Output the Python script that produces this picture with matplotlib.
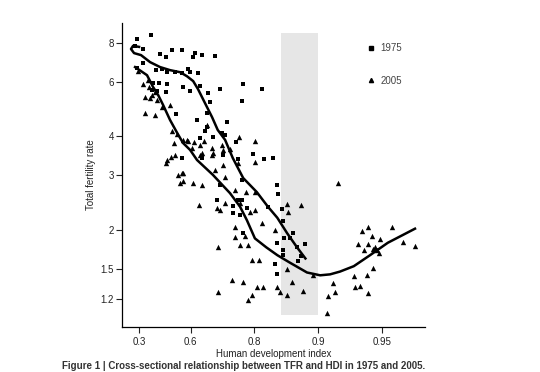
import numpy as np
import matplotlib
matplotlib.use("Agg")
import matplotlib.pyplot as plt
from matplotlib.ticker import NullLocator, FixedLocator, FixedFormatter
from matplotlib.lines import Line2D

plt.rcParams['font.family'] = ['Liberation Sans', 'DejaVu Sans']

# ---- data (HDI, total fertility rate) ----
hdi_1975 = [0.285, 0.386, 0.269, 0.330, 0.443, 0.478, 0.511, 0.561, 0.619, 0.647,
            0.693, 0.611, 0.330, 0.285, 0.418, 0.455, 0.483, 0.527, 0.561, 0.589,
            0.598, 0.631, 0.399, 0.437, 0.483, 0.392, 0.424, 0.478, 0.566, 0.598,
            0.639, 0.669, 0.676, 0.709, 0.774, 0.816, 0.771, 0.665, 0.532, 0.627,
            0.731, 0.665, 0.658, 0.715, 0.725, 0.686, 0.639, 0.756, 0.561, 0.647,
            0.719, 0.761, 0.797, 0.820, 0.836, 0.709, 0.771, 0.844, 0.845, 0.699,
            0.761, 0.771, 0.747, 0.783, 0.827, 0.747, 0.766, 0.851, 0.854, 0.774,
            0.868, 0.855, 0.864, 0.844, 0.885, 0.874, 0.854, 0.854, 0.879, 0.875,
            0.840, 0.844]
tfr_1975 = [8.24, 8.48, 7.83, 7.65, 7.37, 7.20, 7.59, 7.59, 7.42, 7.31,
            7.26, 7.20, 6.89, 6.64, 6.54, 6.59, 6.44, 6.44, 6.40, 6.59,
            6.44, 6.40, 5.95, 5.95, 5.90, 5.64, 5.60, 5.56, 5.77, 5.60,
            5.81, 5.52, 5.16, 5.68, 5.90, 5.68, 5.20, 4.76, 4.73, 4.52,
            4.46, 4.30, 4.17, 4.11, 4.05, 3.99, 3.96, 3.84, 3.41, 3.41,
            3.49, 3.39, 3.52, 3.39, 3.41, 2.79, 2.90, 2.79, 2.61, 2.50,
            2.50, 2.50, 2.39, 2.36, 2.38, 2.27, 2.23, 2.34, 2.14, 1.95,
            1.96, 1.89, 1.89, 1.82, 1.81, 1.76, 1.73, 1.66, 1.65, 1.59,
            1.55, 1.44]

hdi_2005 = [0.292, 0.330, 0.365, 0.372, 0.344, 0.392, 0.412, 0.379, 0.424, 0.344,
            0.412, 0.455, 0.500, 0.511, 0.537, 0.522, 0.566, 0.584, 0.606, 0.615,
            0.639, 0.647, 0.483, 0.505, 0.527, 0.552, 0.566, 0.589, 0.639, 0.683,
            0.683, 0.719, 0.739, 0.763, 0.801, 0.801, 0.761, 0.719, 0.665, 0.654,
            0.686, 0.693, 0.566, 0.611, 0.647, 0.725, 0.753, 0.781, 0.801, 0.635,
            0.699, 0.725, 0.709, 0.766, 0.790, 0.801, 0.860, 0.880, 0.861, 0.816,
            0.840, 0.753, 0.779, 0.753, 0.785, 0.702, 0.766, 0.794, 0.810, 0.745,
            0.774, 0.805, 0.818, 0.702, 0.794, 0.785, 0.844, 0.849, 0.860, 0.867,
            0.860, 0.882, 0.894, 0.915, 0.917, 0.910, 0.909, 0.919, 0.932, 0.933,
            0.9365, 0.941, 0.942, 0.945, 0.935, 0.939, 0.938, 0.942, 0.944, 0.942,
            0.946, 0.947, 0.948, 0.945, 0.949, 0.955, 0.960, 0.965, 0.478, 0.542,
            0.561, 0.715]
tfr_2005 = [6.49, 5.90, 6.08, 5.77, 5.36, 5.44, 5.56, 5.32, 5.24, 4.76,
            4.69, 4.98, 5.05, 4.17, 4.08, 3.81, 3.90, 3.90, 3.68, 3.84,
            3.76, 3.54, 3.36, 3.44, 3.49, 2.83, 2.88, 3.87, 3.49, 3.68,
            3.49, 3.62, 3.65, 3.99, 3.87, 3.31, 3.29, 3.24, 4.36, 3.87,
            3.54, 3.12, 3.05, 2.83, 2.79, 2.97, 2.69, 2.65, 2.65, 2.41,
            2.36, 2.45, 2.32, 2.45, 2.29, 2.32, 2.43, 2.41, 2.29, 2.10,
            2.00, 2.05, 1.92, 1.90, 1.79, 1.76, 1.79, 1.60, 1.60, 1.38,
            1.36, 1.31, 1.31, 1.26, 1.24, 1.19, 1.31, 1.26, 1.24, 1.36,
            1.50, 1.27, 1.43, 1.35, 1.26, 1.23, 1.08, 2.83, 1.42, 1.31,
            1.32, 1.43, 1.25, 1.51, 1.81, 1.72, 1.98, 2.04, 1.91, 1.81,
            1.76, 1.72, 1.69, 1.74, 1.87, 2.04, 1.83, 1.78, 3.29, 3.01,
            3.05, 3.76]

# smoothed fits
fit_hdi_1975 = [0.300, 0.253, 0.236, 0.261, 0.315, 0.379, 0.443, 0.500, 0.552, 0.584,
                0.611, 0.631, 0.658, 0.683, 0.702, 0.725, 0.747, 0.774, 0.805, 0.827,
                0.844, 0.860, 0.874, 0.885]
fit_tfr_1975 = [7.77, 7.83, 7.65, 7.42, 7.31, 6.94, 6.69, 6.54, 6.44, 6.25,
                6.03, 5.68, 5.12, 4.62, 4.20, 3.90, 3.41, 2.94, 2.65, 2.38,
                2.19, 1.95, 1.76, 1.62]
fit_hdi_2005 = [0.269, 0.358, 0.399, 0.431, 0.461, 0.500, 0.537, 0.566, 0.598, 0.627,
                0.686, 0.739, 0.766, 0.783, 0.801, 0.824, 0.844, 0.864, 0.887, 0.902,
                0.912, 0.921, 0.932, 0.943, 0.953, 0.959, 0.965]
fit_tfr_2005 = [6.69, 6.30, 5.77, 5.44, 5.05, 4.52, 4.11, 3.81, 3.62, 3.36,
                3.01, 2.63, 2.38, 2.15, 1.88, 1.76, 1.66, 1.57, 1.46, 1.43,
                1.44, 1.47, 1.53, 1.66, 1.82, 1.91, 2.02]

band = (0.85, 0.90)
x_ticks = [0.3, 0.6, 0.8, 0.9, 0.95]
x_tick_labels = ['0.3', '0.6', '0.8', '0.9', '0.95']
y_ticks = [1.2, 1.5, 2, 3, 4, 6, 8]
y_tick_labels = ['1.2', '1.5', '2', '3', '4', '6', '8']

# ---- figure ----
fig = plt.figure(figsize=(5.4, 3.72), dpi=100)
ax = fig.add_axes([0.226, 0.121, 0.561, 0.817])

def fwd(x):
    x = np.asarray(x, dtype=float)
    return -np.log(np.clip(1.0 - x, 1e-9, None))

def inv(u):
    return 1.0 - np.exp(-np.asarray(u, dtype=float))

ax.set_xscale('function', functions=(fwd, inv))
ax.set_yscale('log')
ax.set_xlim(0.158, 0.9686)
ax.set_ylim(0.975, 9.27)

ax.axvspan(band[0], band[1], ymin=0.039, ymax=0.967, color='#e6e6e6', lw=0, zorder=0)

ax.scatter(hdi_1975, tfr_1975, marker='s', s=12, color='black', lw=0, zorder=3)
ax.scatter(hdi_2005, tfr_2005, marker='^', s=15, color='black', lw=0, zorder=3)
ax.plot(fit_hdi_1975, fit_tfr_1975, color='black', lw=1.8, zorder=4)
ax.plot(fit_hdi_2005, fit_tfr_2005, color='black', lw=1.8, zorder=4)

ax.xaxis.set_major_locator(FixedLocator(x_ticks))
ax.xaxis.set_major_formatter(FixedFormatter(x_tick_labels))
ax.xaxis.set_minor_locator(NullLocator())
ax.yaxis.set_major_locator(FixedLocator(y_ticks))
ax.yaxis.set_major_formatter(FixedFormatter(y_tick_labels))
ax.yaxis.set_minor_locator(NullLocator())

for s in ['top', 'right']:
    ax.spines[s].set_visible(False)
for s in ['left', 'bottom']:
    ax.spines[s].set_linewidth(0.9)
ax.tick_params(axis='both', labelsize=7, length=4, width=0.8, colors='#222222')
ax.tick_params(axis='x', pad=3)
ax.tick_params(axis='y', pad=2)

ax.set_xlabel('Human development index', fontsize=7, color='#222222', labelpad=2)
ax.set_ylabel('Total fertility rate', fontsize=7, color='#222222', labelpad=3)

handles = [Line2D([], [], marker='s', ls='none', color='black', markersize=2.8),
           Line2D([], [], marker='^', ls='none', color='black', markersize=3.0)]
leg = ax.legend(handles, ['1975', '2005'], loc='upper left', bbox_to_anchor=(0.78, 0.962),
                frameon=False, fontsize=7, labelspacing=2.3, handlelength=0.8,
                handletextpad=0.6)
for t in leg.get_texts():
    t.set_color('#444444')

fig.text(0.115, 0.003, 'Figure 1 | Cross-sectional relationship between TFR and HDI in 1975 and 2005.',
         fontsize=7, fontweight='bold', color='#333333', va='bottom', ha='left')

fig.savefig('out.png', dpi=100)
